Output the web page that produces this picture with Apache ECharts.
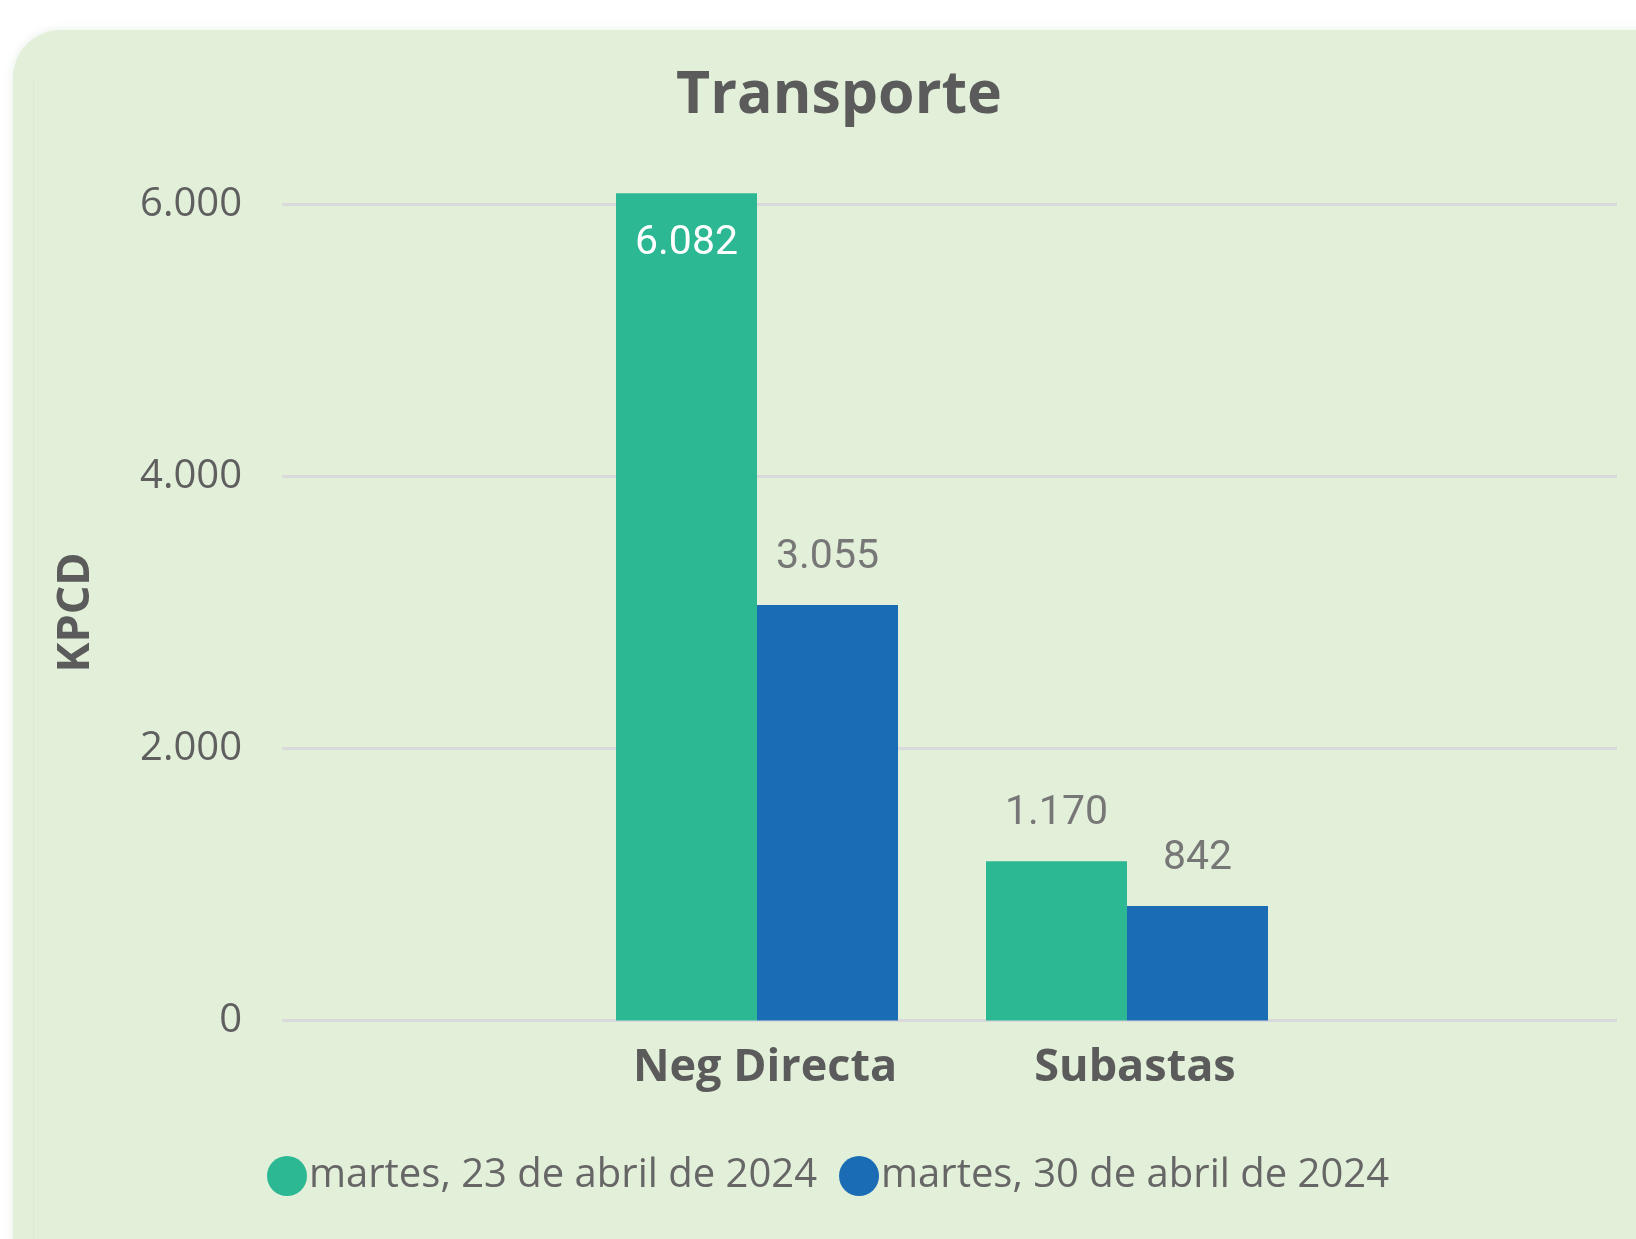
<!DOCTYPE html>
<html>
<head>
<meta charset="utf-8">
<script src="https://cdn.jsdelivr.net/npm/echarts@6/dist/echarts.min.js"></script>
<style>
  html, body { margin: 0; padding: 0; background: #ffffff; overflow: hidden; }
  #panel {
    position: absolute; left: 13px; top: 30px; width: 1680px; height: 1260px;
    background: #e2efd9; border-radius: 48px;
    box-shadow: 0 0 10px rgba(160, 190, 150, 0.25);
  }
  #edge {
    position: absolute; left: 33px; top: 80px; width: 0; height: 1200px;
    border-left: 1px solid #dce8d3;
  }
  #chart { position: absolute; left: 0; top: 0; width: 1636px; height: 1239px; }
</style>
</head>
<body>
<div id="panel"></div>
<div id="edge"></div>
<div id="chart"></div>
<script>
  // datos
  const categories = ['Neg Directa', 'Subastas'];
  const seriesNames = ['martes, 23 de abril de 2024', 'martes, 30 de abril de 2024'];
  const valuesApr23 = [6082, 1170];
  const valuesApr30 = [3055, 842];
  const yTicks = [0, 2000, 4000, 6000];

  const colors = ['#2cb893', '#1a6cb4'];
  const yMax = yTicks[yTicks.length - 1];
  const yStep = yTicks[1] - yTicks[0];

  const fmt = v => String(v).replace(/\B(?=(\d{3})+(?!\d))/g, '.');

  // etiquetas: dentro de la barra si se sale del eje
  function buildData(values) {
    return values.map(v => {
      if (v > yMax) {
        return {
          value: v,
          label: { position: 'insideTop', color: '#ffffff', distance: 30 }
        };
      }
      return v;
    });
  }

  const labelBase = {
    show: true,
    position: 'top',
    distance: 27,
    fontFamily: 'Roboto',
    fontSize: 41,
    color: '#777777',
    formatter: p => fmt(p.value)
  };

  const chart = echarts.init(document.getElementById('chart'), null, { renderer: 'canvas' });

  const option = {
    backgroundColor: 'transparent',
    animation: false,
    title: {
      text: 'Transporte',
      left: 834,
      top: 62,
      textAlign: 'center',
      textStyle: { fontFamily: 'Open Sans', fontWeight: 'bold', fontSize: 59, color: '#5b5b5b' }
    },
    legend: {
      left: 262,
      top: 1151,
      icon: 'circle',
      itemWidth: 40,
      itemHeight: 40,
      itemGap: 22,
      textStyle: { fontFamily: 'Open Sans', fontSize: 40, color: '#666666', padding: [0, 0, 0, -3] },
      data: seriesNames
    },
    grid: [
      { left: 282, right: 19, top: 204.3, bottom: 218.5 },
      { left: 572, right: 324, top: 204.3, bottom: 218.5 }
    ],
    xAxis: [
      {
        gridIndex: 0, type: 'category', data: [''],
        axisLine: { show: false }, axisTick: { show: false }, axisLabel: { show: false }
      },
      {
        gridIndex: 1, type: 'category', data: categories,
        axisLine: { show: false }, axisTick: { show: false },
        axisLabel: {
          margin: 25, padding: [0, 0, 0, 16],
          fontFamily: 'Open Sans', fontWeight: 'bold', fontSize: 45, color: '#5b5b5b'
        }
      }
    ],
    yAxis: [
      {
        gridIndex: 0, type: 'value', min: 0, max: yMax, interval: yStep,
        name: 'KPCD', nameLocation: 'middle', nameGap: 183, nameRotate: 90,
        nameTextStyle: { fontFamily: 'Open Sans', fontWeight: 'bold', fontSize: 45, color: '#5b5b5b' },
        axisLine: { show: false }, axisTick: { show: false },
        axisLabel: {
          margin: 40, fontFamily: 'Open Sans', fontSize: 40, color: '#5f5f5f',
          formatter: v => fmt(v)
        },
        splitLine: { lineStyle: { color: '#d9d9dc', width: 3 } }
      },
      {
        gridIndex: 1, type: 'value', min: 0, max: yMax, interval: yStep,
        axisLine: { show: false }, axisTick: { show: false },
        axisLabel: { show: false }, splitLine: { show: false }
      }
    ],
    series: [
      {
        name: seriesNames[0], type: 'bar', xAxisIndex: 1, yAxisIndex: 1,
        barWidth: 141, barGap: '0%', clip: false,
        itemStyle: { color: colors[0] },
        label: labelBase,
        data: buildData(valuesApr23)
      },
      {
        name: seriesNames[1], type: 'bar', xAxisIndex: 1, yAxisIndex: 1,
        barWidth: 141, barGap: '0%', clip: false,
        itemStyle: { color: colors[1] },
        label: labelBase,
        data: buildData(valuesApr30)
      }
    ]
  };

  chart.setOption(option);
</script>
</body>
</html>
